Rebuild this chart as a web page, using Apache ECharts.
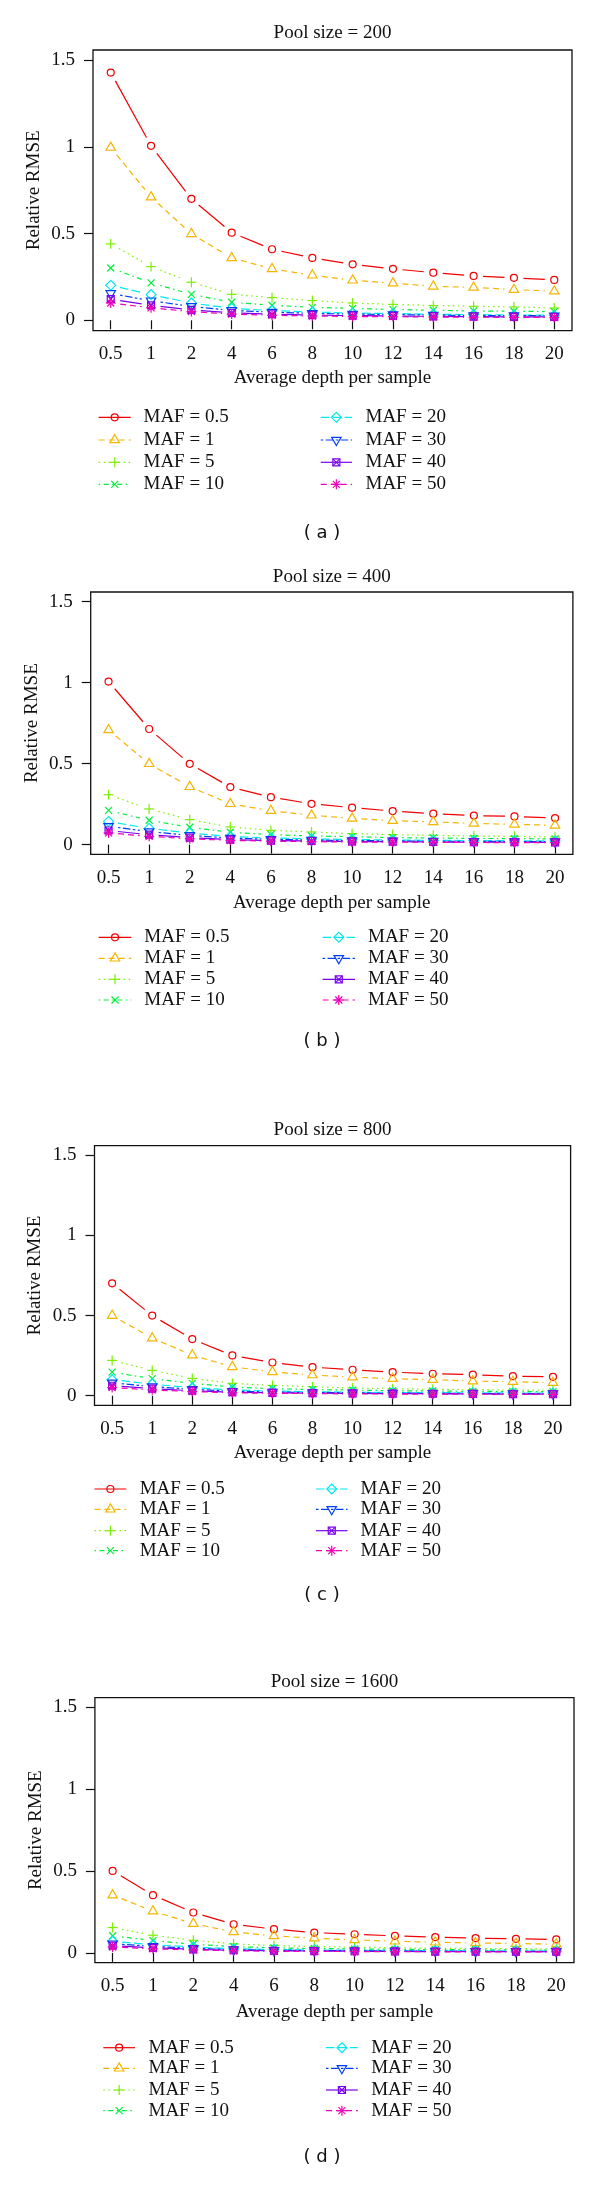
<!DOCTYPE html>
<html><head><meta charset="utf-8">
<script src="https://cdn.jsdelivr.net/npm/echarts@6/dist/echarts.min.js"></script>
<style>html,body{margin:0;padding:0;background:#fff}#c{width:600px;height:2204px}</style>
</head><body><div id="c"></div>
<script>
// ---------- data ----------
const depthLabels = ['0.5','1','2','4','6','8','10','12','14','16','18','20'];
const yTickValues = [0, 0.5, 1, 1.5];
const yTickLabels = ['0', '0.5', '1', '1.5'];
const poolTitles = ['Pool size = 200', 'Pool size = 400', 'Pool size = 800', 'Pool size = 1600'];
const panelCaptions = ['( a )', '( b )', '( c )', '( d )'];
const mafNames = ['MAF = 0.5', 'MAF = 1', 'MAF = 5', 'MAF = 10', 'MAF = 20', 'MAF = 30', 'MAF = 40', 'MAF = 50'];
const xLabel = 'Average depth per sample';
const yLabel = 'Relative RMSE';

// Pool size = 200
const p200_maf0_5 = [1.43, 1.007, 0.701, 0.506, 0.41, 0.36, 0.323, 0.297, 0.275, 0.256, 0.245, 0.233];
const p200_maf1   = [0.997, 0.711, 0.499, 0.36, 0.297, 0.26, 0.231, 0.214, 0.196, 0.19, 0.177, 0.168];
const p200_maf5   = [0.441, 0.31, 0.22, 0.15, 0.131, 0.114, 0.10, 0.092, 0.085, 0.081, 0.077, 0.071];
const p200_maf10  = [0.302, 0.216, 0.15, 0.104, 0.087, 0.075, 0.069, 0.062, 0.058, 0.054, 0.052, 0.05];
const p200_maf20  = [0.202, 0.148, 0.10, 0.069, 0.056, 0.048, 0.042, 0.039, 0.035, 0.033, 0.031, 0.029];
const p200_maf30  = [0.155, 0.113, 0.08, 0.057, 0.047, 0.04, 0.036, 0.033, 0.03, 0.028, 0.027, 0.026];
const p200_maf40  = [0.122, 0.086, 0.06, 0.043, 0.035, 0.03, 0.027, 0.025, 0.023, 0.021, 0.02, 0.019];
const p200_maf50  = [0.10, 0.072, 0.05, 0.036, 0.029, 0.025, 0.022, 0.021, 0.019, 0.018, 0.017, 0.016];
// Pool size = 400
const p400_maf0_5 = [1.007, 0.714, 0.499, 0.355, 0.293, 0.252, 0.228, 0.207, 0.191, 0.179, 0.174, 0.164];
const p400_maf1   = [0.708, 0.499, 0.357, 0.252, 0.209, 0.181, 0.162, 0.148, 0.14, 0.131, 0.125, 0.119];
const p400_maf5   = [0.308, 0.22, 0.154, 0.109, 0.088, 0.078, 0.068, 0.062, 0.057, 0.053, 0.051, 0.047];
const p400_maf10  = [0.211, 0.15, 0.107, 0.076, 0.062, 0.053, 0.049, 0.043, 0.041, 0.038, 0.037, 0.035];
const p400_maf20  = [0.143, 0.10, 0.071, 0.05, 0.041, 0.035, 0.032, 0.028, 0.026, 0.025, 0.024, 0.022];
const p400_maf30  = [0.113, 0.08, 0.057, 0.04, 0.033, 0.028, 0.025, 0.023, 0.021, 0.02, 0.019, 0.018];
const p400_maf40  = [0.087, 0.061, 0.043, 0.031, 0.025, 0.022, 0.019, 0.018, 0.016, 0.015, 0.015, 0.014];
const p400_maf50  = [0.072, 0.051, 0.036, 0.026, 0.021, 0.018, 0.016, 0.015, 0.014, 0.013, 0.012, 0.012];
// Pool size = 800
const p800_maf0_5 = [0.701, 0.50, 0.353, 0.251, 0.207, 0.178, 0.162, 0.147, 0.137, 0.131, 0.122, 0.118];
const p800_maf1   = [0.50, 0.359, 0.253, 0.18, 0.149, 0.129, 0.116, 0.106, 0.10, 0.091, 0.087, 0.081];
const p800_maf5   = [0.22, 0.158, 0.108, 0.077, 0.064, 0.056, 0.048, 0.044, 0.04, 0.038, 0.036, 0.034];
const p800_maf10  = [0.147, 0.106, 0.077, 0.054, 0.044, 0.038, 0.035, 0.031, 0.029, 0.027, 0.026, 0.025];
const p800_maf20  = [0.10, 0.072, 0.05, 0.036, 0.029, 0.025, 0.022, 0.02, 0.019, 0.018, 0.017, 0.016];
const p800_maf30  = [0.08, 0.057, 0.04, 0.028, 0.023, 0.02, 0.018, 0.016, 0.015, 0.014, 0.013, 0.013];
const p800_maf40  = [0.062, 0.044, 0.031, 0.022, 0.018, 0.016, 0.014, 0.013, 0.012, 0.011, 0.01, 0.01];
const p800_maf50  = [0.051, 0.036, 0.026, 0.018, 0.015, 0.013, 0.011, 0.01, 0.0095, 0.009, 0.0085, 0.008];
// Pool size = 1600
const p1600_maf0_5 = [0.501, 0.353, 0.247, 0.175, 0.145, 0.124, 0.114, 0.104, 0.096, 0.09, 0.086, 0.082];
const p1600_maf1   = [0.353, 0.255, 0.179, 0.128, 0.104, 0.09, 0.079, 0.071, 0.065, 0.061, 0.057, 0.053];
const p1600_maf5   = [0.155, 0.108, 0.077, 0.055, 0.045, 0.039, 0.035, 0.031, 0.028, 0.027, 0.026, 0.024];
const p1600_maf10  = [0.105, 0.075, 0.053, 0.038, 0.031, 0.027, 0.024, 0.022, 0.02, 0.019, 0.018, 0.017];
const p1600_maf20  = [0.071, 0.05, 0.036, 0.025, 0.021, 0.018, 0.016, 0.014, 0.013, 0.012, 0.012, 0.011];
const p1600_maf30  = [0.056, 0.04, 0.028, 0.02, 0.016, 0.014, 0.013, 0.011, 0.011, 0.01, 0.009, 0.009];
const p1600_maf40  = [0.044, 0.031, 0.022, 0.016, 0.013, 0.011, 0.01, 0.009, 0.008, 0.008, 0.007, 0.007];
const p1600_maf50  = [0.036, 0.025, 0.018, 0.013, 0.01, 0.009, 0.008, 0.007, 0.007, 0.006, 0.006, 0.006];

const panelSeries = [
  [p200_maf0_5, p200_maf1, p200_maf5, p200_maf10, p200_maf20, p200_maf30, p200_maf40, p200_maf50],
  [p400_maf0_5, p400_maf1, p400_maf5, p400_maf10, p400_maf20, p400_maf30, p400_maf40, p400_maf50],
  [p800_maf0_5, p800_maf1, p800_maf5, p800_maf10, p800_maf20, p800_maf30, p800_maf40, p800_maf50],
  [p1600_maf0_5, p1600_maf1, p1600_maf5, p1600_maf10, p1600_maf20, p1600_maf30, p1600_maf40, p1600_maf50]
];

// ---------- styles ----------
const colors = ['#F00000', '#F5B500', '#7AF000', '#00EE3C', '#00E8F0', '#0040F0', '#7A00F0', '#F000B4'];
const dashes = [null, [6, 4], [1.5, 3.5], [1.5, 3.5, 5, 3.5], [8.5, 3.5], [2.5, 2.5, 7.5, 2.5], null, [6, 4]];
const pchs = [1, 2, 3, 4, 5, 6, 7, 8];
const SERIF = '"Liberation Serif", "DejaVu Serif", serif';
const FS = 19;
const GAP = 9.5;
const R0 = 3.5;
const LW = 1.2;

const layout = [
  {left: 93,   top: 50,     right: 572,   bottom: 330.7,  titleY: 33,     xNameY: 378.5,  legY: [417.3, 440, 462.3, 484.3],   c1: [98.7, 130.7, 143.5], c2: [320.7, 352, 365.5], capY: 533},
  {left: 90.7, top: 592,    right: 572.9, bottom: 854.3,  titleY: 576.7,  xNameY: 903,    legY: [937.3, 958.3, 979.3, 1000],   c1: [98.7, 131.3, 144.3], c2: [322.6, 355, 368],   capY: 1041.7},
  {left: 94.5, top: 1145.7, right: 570.6, bottom: 1405.3, titleY: 1130,   xNameY: 1453.3, legY: [1489, 1509.3, 1530.7, 1550.7], c1: [94.5, 126.3, 139.7], c2: [316, 347.5, 360.5], capY: 1595.7},
  {left: 94.9, top: 1697.7, right: 574,   bottom: 1962.7, titleY: 1681.7, xNameY: 2011.7, legY: [2047.7, 2068.3, 2090, 2110.7], c1: [103.3, 135, 148.5], c2: [326, 357.8, 371.2], capY: 2157.3}
];

function glyph(pch, x, y, color) {
  const st = {stroke: color, fill: 'none', lineWidth: LW};
  const L = (x1, y1, x2, y2) => ({type: 'line', shape: {x1, y1, x2, y2}, style: st});
  const r = R0, s = Math.SQRT2 * R0;
  const t0 = 1.555 * R0, t1 = 1.347 * R0, t2 = 0.778 * R0;
  switch (pch) {
    case 1: return [{type: 'circle', shape: {cx: x, cy: y, r: r}, style: st}];
    case 2: return [{type: 'polygon', shape: {points: [[x, y - t0], [x + t1, y + t2], [x - t1, y + t2]]}, style: st}];
    case 3: return [L(x - s, y, x + s, y), L(x, y - s, x, y + s)];
    case 4: return [L(x - r, y - r, x + r, y + r), L(x - r, y + r, x + r, y - r)];
    case 5: return [{type: 'polygon', shape: {points: [[x, y - s], [x + s, y], [x, y + s], [x - s, y]]}, style: st}];
    case 6: return [{type: 'polygon', shape: {points: [[x, y + t0], [x + t1, y - t2], [x - t1, y - t2]]}, style: st}];
    case 7: return [{type: 'rect', shape: {x: x - r, y: y - r, width: 2 * r, height: 2 * r}, style: st},
                    L(x - r, y - r, x + r, y + r), L(x - r, y + r, x + r, y - r)];
    case 8: return [L(x - r, y - r, x + r, y + r), L(x - r, y + r, x + r, y - r),
                    L(x - s, y, x + s, y), L(x, y - s, x, y + s)];
  }
  return [];
}

function makeRender(j) {
  return function (params, api) {
    const k = params.dataIndexInside;
    const p = api.coord([api.value(0, k), api.value(1, k)]);
    const children = [];
    if (k < params.dataInsideLength - 1) {
      const q = api.coord([api.value(0, k + 1), api.value(1, k + 1)]);
      const dx = q[0] - p[0], dy = q[1] - p[1], len = Math.hypot(dx, dy);
      if (len > 2 * GAP) {
        const ux = dx / len, uy = dy / len;
        children.push({type: 'line',
          shape: {x1: p[0] + ux * GAP, y1: p[1] + uy * GAP, x2: q[0] - ux * GAP, y2: q[1] - uy * GAP},
          style: {stroke: colors[j], lineWidth: LW, lineDash: dashes[j] || null, fill: 'none'}});
      }
    }
    glyph(pchs[j], p[0], p[1], colors[j]).forEach(g => children.push(g));
    return {type: 'group', children};
  };
}

function txt(x, y, text, opts) {
  opts = opts || {};
  return {type: 'text', x, y, rotation: opts.rotation || 0, silent: true,
    style: {text, font: opts.font || (FS + 'px ' + SERIF), fill: '#111',
      align: opts.align || 'center', verticalAlign: 'middle',
      textAlign: opts.align || 'center', textVerticalAlign: 'middle'}};
}

const grids = [], xAxes = [], yAxes = [], series = [], graphics = [];
const xCustom = depthLabels.map((_, i) => i + 1);

layout.forEach((b, i) => {
  grids.push({left: b.left, top: b.top, width: b.right - b.left, height: b.bottom - b.top,
    show: true, borderColor: '#111', borderWidth: 1.3, backgroundColor: 'transparent', containLabel: false});
  xAxes.push({type: 'value', gridIndex: i, min: 0.56, max: 12.44,
    axisLine: {show: false}, splitLine: {show: false},
    axisTick: {show: true, inside: false, length: 9, customValues: xCustom, lineStyle: {color: '#111', width: 1.2}},
    axisLabel: {customValues: xCustom, margin: 14, color: '#111', fontFamily: SERIF, fontSize: FS,
      formatter: v => depthLabels[Math.round(v) - 1]}});
  yAxes.push({type: 'value', gridIndex: i, min: -0.06, max: 1.56,
    axisLine: {show: false}, splitLine: {show: false},
    axisTick: {show: true, inside: false, length: 9, customValues: yTickValues, lineStyle: {color: '#111', width: 1.2}},
    axisLabel: {customValues: yTickValues, margin: 18, color: '#111', fontFamily: SERIF, fontSize: FS,
      formatter: v => yTickLabels[yTickValues.findIndex(t => Math.abs(t - v) < 1e-6)]}});
  panelSeries[i].forEach((vals, j) => {
    series.push({type: 'custom', name: mafNames[j], xAxisIndex: i, yAxisIndex: i,
      coordinateSystem: 'cartesian2d', encode: {x: 0, y: 1}, silent: true, animation: false,
      data: vals.map((v, k) => [k + 1, v]), renderItem: makeRender(j)});
  });
  const cx = (b.left + b.right) / 2, cy = (b.top + b.bottom) / 2;
  graphics.push(txt(cx, b.titleY, poolTitles[i]));
  graphics.push(txt(b.left - 59, cy, yLabel, {rotation: Math.PI / 2}));
  graphics.push(txt(cx, b.xNameY, xLabel));
  graphics.push(txt(322, b.capY, panelCaptions[i], {font: '18px "DejaVu Sans", sans-serif'}));
  // legend (2 columns x 4 rows)
  mafNames.forEach((name, j) => {
    const col = j < 4 ? b.c1 : b.c2;
    const y = b.legY[j % 4];
    const children = [{type: 'line', shape: {x1: col[0], y1: y, x2: col[1], y2: y},
      style: {stroke: colors[j], lineWidth: LW, lineDash: dashes[j] || null}}];
    glyph(pchs[j], (col[0] + col[1]) / 2, y, colors[j]).forEach(g => children.push(g));
    graphics.push({type: 'group', silent: true, children});
    graphics.push(txt(col[2], y, name, {align: 'left'}));
  });
});

const chart = echarts.init(document.getElementById('c'), null, {renderer: 'canvas'});
chart.setOption({
  animation: false,
  backgroundColor: '#fff',
  grid: grids, xAxis: xAxes, yAxis: yAxes, series,
  graphic: {elements: graphics}
});
</script></body></html>
